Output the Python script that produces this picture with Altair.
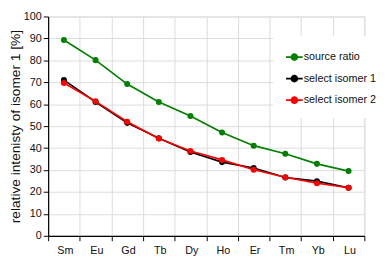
import altair as alt
import pandas as pd

elements = ["Sm", "Eu", "Gd", "Tb", "Dy", "Ho", "Er", "Tm", "Yb", "Lu"]
source_ratio = [89.3, 80.1, 69.2, 61.0, 54.6, 47.1, 41.1, 37.4, 32.8, 29.5]
select_isomer_1 = [71.0, 61.0, 51.5, 44.5, 38.2, 33.6, 30.9, 26.6, 24.9, 21.9]
select_isomer_2 = [69.7, 61.3, 52.0, 44.4, 38.7, 34.6, 30.1, 26.7, 24.0, 21.9]
series_names = ["source ratio", "select isomer 1", "select isomer 2"]
series_colors = ["#008000", "#000000", "#ff0000"]

rows = []
for name, vals in zip(series_names, [source_ratio, select_isomer_1, select_isomer_2]):
    for i, (el, v) in enumerate(zip(elements, vals)):
        rows.append({"series": name, "idx": i, "element": el, "value": v})
df = pd.DataFrame(rows)

tick_vals = [i - 0.5 for i in range(len(elements) + 1)]
label_expr = "datum.value < %d ? %s[datum.value + 0.5] : ''" % (
    len(elements) - 1, "[" + ",".join("'%s'" % e for e in elements) + "]")

FONT = "Liberation Sans"

x_enc = alt.X(
    "idx:Q",
    scale=alt.Scale(domain=[-0.5, len(elements) - 0.5], nice=False, zero=False),
    axis=alt.Axis(
        values=tick_vals, labelExpr=label_expr, labelOffset=17, labelFlush=False,
        labelOverlap=False, labelAlign="center", title=None, grid=True,
        tickSize=5, labelPadding=4,
    ),
)
y_enc = alt.Y(
    "value:Q",
    scale=alt.Scale(domain=[0, 100], nice=False),
    axis=alt.Axis(
        values=list(range(0, 101, 10)), title="relative intenisty of isomer 1 [%]",
        grid=True, tickSize=5, labelPadding=2, titlePadding=1,
    ),
)
color_enc = alt.Color(
    "series:N",
    scale=alt.Scale(domain=series_names, range=series_colors),
    sort=series_names,
    legend=alt.Legend(
        title=None, orient="none", legendX=230, legendY=20,
        fillColor="white", padding=12,
        symbolType="M-1,0L1,0M-0.36,0a0.36,0.36 0 1,0 0.72,0a0.36,0.36 0 1,0 -0.72,0",
        symbolSize=289, symbolStrokeWidth=1.7, symbolOpacity=1,
        labelFont=FONT, labelFontSize=11, labelColor="#111", labelOffset=0,
        rowPadding=6,
    ),
)

base = alt.Chart(df).encode(x=x_enc, y=y_enc, color=color_enc,
                            order=alt.Order("series:N"))
lines = base.mark_line(strokeWidth=1.7)
points = base.mark_point(filled=True, size=38, opacity=1)

chart = (lines + points).properties(
    width=382, height=250,
    autosize=alt.AutoSizeParams(type="fit", contains="padding"),
    padding={"left": 0, "top": 0, "right": 1, "bottom": 0},
).configure_axis(
    labelFont=FONT, titleFont=FONT, labelFontSize=11, titleFontSize=14,
    titleFontWeight="normal", labelColor="#111", titleColor="#111",
    domainColor="#000", tickColor="#000", domainWidth=1.2,
    gridColor="#dcdcdc", gridWidth=1,
).configure_view(stroke="#dcdcdc")

chart.save("out.html", embed_options={"renderer": "svg", "actions": False})
